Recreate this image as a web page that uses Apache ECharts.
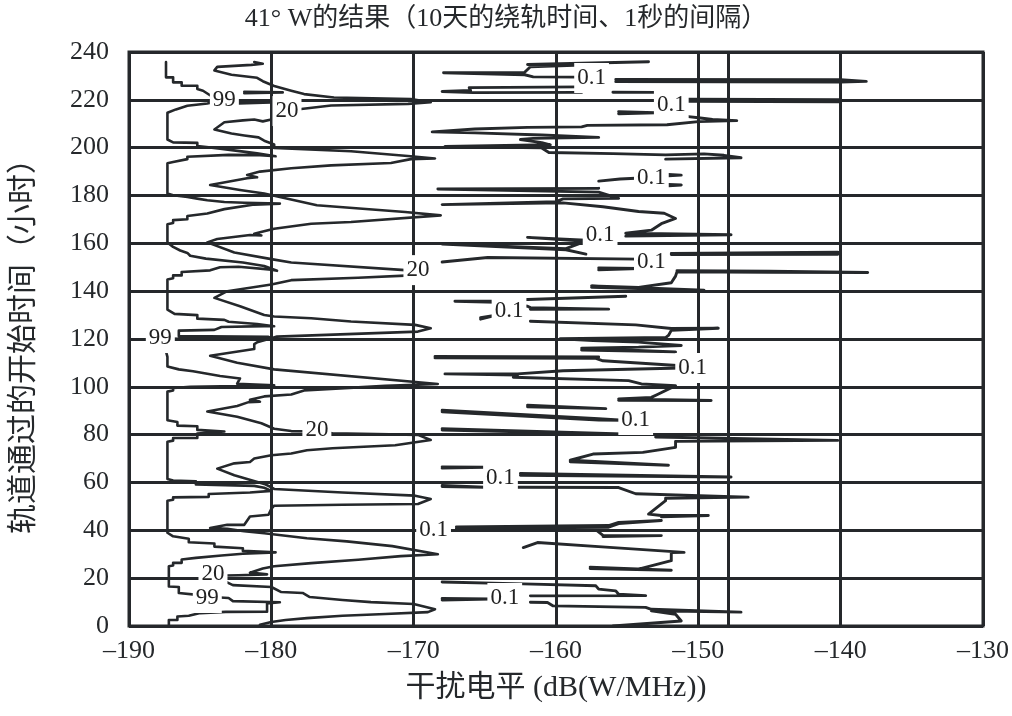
<!DOCTYPE html>
<html>
<head>
<meta charset="utf-8">
<script src="https://cdn.jsdelivr.net/npm/echarts@6/dist/echarts.min.js"></script>
<style>html,body{margin:0;padding:0;background:#fff}#c{width:1012px;height:716px}</style>
</head>
<body>
<div id="c"></div>
<script>
const titleText = '41° W的结果（10天的绕轨时间、1秒的间隔）';
const xName = '干扰电平 (dB(W/MHz))';
const yName = '轨道通过的开始时间（小时）';
const xMin = -190, xMax = -130, xStep = 10;
const yMin = 0, yMax = 240, yStep = 20;
const extraLineX = -147.9;

// 99% contour
const curve99 = [
[[-187.2,0],[-187.2,2.5],[-186.6,2.5],[-186.6,4.0],[-185.8,4.3],[-185.0,5.4],[-183.2,5.9],[-180.3,6.0],[-180.3,9.4],[-179.4,9.9],[-182.7,10.4],[-183.0,11.7],[-184.5,12.2],[-185.2,13.0],[-186.5,13.8],[-186.5,16.3],[-187.2,16.5],[-187.2,25.0],[-186.9,25.3],[-186.9,26.4],[-186.3,26.4],[-186.3,27.8],[-185.3,28.5],[-183.5,29.5],[-182.0,30.2],[-179.7,30.8],[-182.0,31.4],[-182.0,32.5],[-184.0,33.2],[-184.0,34.5],[-185.8,35.0],[-185.8,36.5],[-186.9,37.5],[-187.3,39.0],[-187.3,52.4],[-186.9,52.8],[-186.9,53.8],[-184.4,54.0],[-184.4,55.2],[-181.5,55.8],[-180.0,56.5],[-180.5,57.8],[-181.2,58.6],[-185.3,59.2],[-185.3,60.5],[-186.9,60.8],[-187.3,61.5],[-187.3,77.0],[-186.9,77.5],[-186.9,78.6],[-185.2,78.6],[-185.2,80.5],[-183.3,81.3],[-185.2,82.0],[-185.2,83.5],[-186.6,83.8],[-186.6,85.3],[-187.3,86.0],[-187.3,98.0],[-186.9,98.5],[-186.9,99.5],[-185.7,100.0],[-182.4,100.3],[-179.8,100.6],[-182.4,101.3],[-182.2,103.5],[-183.6,104.5],[-185.5,106.5],[-186.5,107.3],[-187.3,108.5],[-187.3,112.5],[-187.5,117.0],[-187.8,120.3],[-186.5,120.1],[-180.0,120.3],[-180.2,120.9],[-186.5,121.2],[-186.5,123.5],[-184.0,123.8],[-183.5,125.0],[-180.5,125.4],[-179.8,125.3],[-181.0,126.3],[-183.0,127.2],[-183.3,128.0],[-185.2,128.5],[-185.2,130.0],[-186.8,130.5],[-187.3,132.3],[-187.3,144.9],[-186.9,145.4],[-186.9,146.6],[-186.3,146.6],[-186.3,148.0],[-184.3,148.7],[-183.6,150.0],[-182.3,150.2],[-180.0,149.0],[-179.6,148.5],[-180.5,150.5],[-182.0,152.0],[-184.6,153.6],[-185.7,154.8],[-185.9,156.0],[-186.4,157.0],[-186.9,158.5],[-187.3,160.4],[-187.3,168.0],[-186.9,168.5],[-186.9,169.7],[-185.9,170.1],[-185.9,171.4],[-184.5,172.5],[-183.3,174.3],[-181.2,176.2],[-179.4,176.6],[-181.9,177.0],[-183.3,177.3],[-184.5,178.0],[-185.2,178.7],[-185.9,179.4],[-186.9,180.1],[-187.3,180.8],[-187.3,193.5],[-186.9,194.0],[-186.9,194.8],[-185.9,195.2],[-185.9,196.2],[-183.0,197.0],[-180.8,196.9],[-179.7,196.4],[-181.0,197.6],[-183.6,199.6],[-185.2,200.7],[-185.2,202.0],[-186.9,202.2],[-186.9,203.0],[-187.3,203.4],[-187.3,214.6],[-186.7,216.0],[-185.9,217.5],[-184.5,218.5],[-183.6,219.6],[-184.2,221.5],[-184.8,223.8],[-185.2,224.5],[-185.2,225.9],[-186.3,225.9],[-186.3,227.3],[-186.9,227.3],[-186.9,229.4],[-187.4,229.4],[-187.4,235.8]],
[[-182.3,219.2],[-180.0,218.9],[-182.3,218.5]],
[[-181.9,223.4],[-179.2,223.1],[-181.9,222.8]]
];

// 20% contour
const curve20 = [
[[-181.2,235.8],[-180.6,235.1],[-181.4,234.6],[-183.8,233.8],[-184.0,232.3],[-182.8,230.5],[-181.0,229.2],[-180.6,227.8],[-179.8,225.8],[-178.6,223.8],[-177.7,222.4],[-175.6,221.0],[-170.2,220.3],[-168.8,219.0],[-170.4,218.3],[-175.8,217.6],[-177.9,216.2],[-179.1,215.2],[-180.0,211.8],[-180.6,211.0],[-181.2,211.8],[-182.0,211.4],[-183.3,210.6],[-184.0,207.6],[-182.8,205.9],[-181.9,205.1],[-180.9,204.3],[-180.5,202.9],[-179.8,201.3],[-179.8,199.9],[-174.4,198.5],[-170.2,196.4],[-168.5,195.5],[-170.2,195.2],[-171.6,193.6],[-175.8,192.6],[-178.6,191.4],[-180.8,190.0],[-181.7,188.6],[-181.0,187.6],[-181.7,187.2],[-184.3,184.4],[-182.2,182.3],[-180.5,180.8],[-179.8,179.9],[-176.8,175.9],[-170.6,173.1],[-168.1,171.7],[-174.4,168.9],[-177.2,168.2],[-179.8,166.1],[-180.8,164.6],[-181.2,164.0],[-180.7,163.3],[-181.5,163.5],[-183.8,161.8],[-184.5,160.4],[-182.6,156.2],[-180.0,153.4],[-178.6,152.0],[-170.6,148.8],[-169.8,148.3],[-170.2,146.6],[-173.9,145.6],[-178.6,144.6],[-180.0,142.8],[-183.1,140.0],[-184.0,137.2],[-182.2,133.7],[-180.5,130.0],[-179.8,129.4],[-177.2,128.7],[-174.4,127.3],[-169.9,125.9],[-168.8,124.5],[-169.7,123.1],[-179.6,121.0],[-180.0,120.3],[-181.0,118.6],[-181.2,117.9],[-181.2,115.8],[-184.3,113.0],[-182.4,110.1],[-179.8,107.3],[-168.3,101.2],[-172.0,100.4],[-177.7,98.5],[-178.6,96.8],[-180.5,96.0],[-181.5,94.6],[-180.8,93.8],[-181.6,93.6],[-182.4,92.0],[-184.5,89.7],[-182.4,87.5],[-180.7,84.8],[-179.8,82.5],[-178.6,81.5],[-176.9,81.3],[-175.7,80.6],[-169.7,79.9],[-168.8,77.8],[-171.3,75.6],[-175.7,74.3],[-177.5,73.5],[-178.6,72.1],[-180.0,71.4],[-181.2,70.0],[-181.5,68.6],[-182.6,68.0],[-183.8,65.8],[-182.6,63.0],[-180.5,59.4],[-180.0,58.0],[-179.8,57.3],[-175.0,55.8],[-169.9,54.5],[-168.8,53.1],[-169.7,51.0],[-175.0,50.7],[-179.8,50.3],[-180.0,49.0],[-180.2,46.5],[-181.5,45.8],[-181.9,42.3],[-183.1,42.3],[-184.3,41.0],[-183.1,40.6],[-181.9,39.6],[-180.5,38.8],[-177.5,36.7],[-174.7,35.4],[-171.5,33.4],[-168.3,30.0],[-170.9,29.2],[-173.9,27.7],[-177.2,26.3],[-179.8,25.0],[-180.6,24.0],[-181.5,22.3],[-180.3,21.6],[-182.3,21.2],[-184.1,21.0],[-182.7,17.1],[-180.0,16.3],[-179.3,14.2],[-177.8,13.8],[-177.3,12.1],[-175.0,10.9],[-173.0,10.0],[-170.0,9.2],[-168.5,7.0],[-169.0,5.8],[-172.0,5.0],[-175.0,4.3],[-177.5,3.3],[-179.0,2.5],[-180.0,1.7],[-180.8,0.5]]
];

// 0.1% contour
const curve01 = [
[[-153.5,235.9],[-158.2,235.3],[-162.0,234.8],[-158.2,234.5],[-158.2,234.0],[-161.8,233.8],[-162.2,231.5],[-167.9,231.3],[-162.2,230.5],[-161.6,229.6],[-158.2,229.5]],
[[-155.8,228.5],[-140.0,228.4],[-138.2,227.7],[-140.0,227.4],[-155.8,227.6]],
[[-158.2,225.4],[-166.1,225.1],[-166.0,223.9],[-168.0,223.5],[-165.8,223.0],[-158.2,223.1]],
[[-156.0,223.2],[-153.0,223.1]],
[[-150.7,220.3],[-140.0,220.1],[-140.0,219.2],[-150.7,219.4]],
[[-155.6,215.0],[-153.0,214.6],[-155.6,214.2]],
[[-150.7,213.0],[-150.0,212.5],[-149.0,211.8],[-147.3,211.3],[-150.0,210.9],[-152.2,209.6],[-157.8,209.3],[-158.2,208.7],[-162.0,208.5],[-165.7,207.8],[-168.7,206.6],[-165.7,206.2],[-161.0,205.3],[-157.0,204.3],[-161.6,203.9],[-162.5,203.4],[-161.0,202.1],[-160.4,201.2],[-167.8,200.5],[-161.0,199.9],[-160.5,198.0],[-156.0,197.5],[-152.3,197.0],[-149.6,197.4],[-148.2,196.8],[-147.0,195.8],[-152.3,195.2]],
[[-157.0,186.0],[-155.5,186.9],[-154.4,187.2]],
[[-152.1,188.8],[-151.2,188.5],[-152.1,188.2]],
[[-152.1,184.6],[-151.2,184.4],[-152.1,184.1]],
[[-157.0,183.0],[-168.3,182.7],[-168.3,182.0],[-157.0,181.4],[-155.6,178.8],[-159.5,178.6],[-160.0,177.4],[-168.0,176.2],[-159.5,176.9],[-156.7,175.3],[-154.2,173.3],[-152.4,172.6],[-151.6,170.4],[-152.6,168.2],[-153.3,165.5],[-155.1,164.2],[-147.7,163.6],[-155.1,163.0]],
[[-157.9,161.3],[-162.0,162.5],[-162.0,161.8],[-157.9,160.9],[-159.3,157.8],[-168.0,159.7],[-168.0,159.1],[-159.3,157.3],[-157.9,155.5]],
[[-168.0,152.2],[-164.8,154.1],[-154.2,153.4]],
[[-151.9,155.8],[-140.2,156.3],[-140.2,155.4],[-151.9,155.3]],
[[-157.0,149.7],[-154.2,149.5],[-157.0,148.9]],
[[-151.5,148.6],[-145.0,148.4],[-138.1,147.8],[-145.0,147.9],[-151.5,148.1],[-151.6,146.3],[-151.9,143.5],[-154.2,141.6],[-157.5,142.2],[-149.6,140.4],[-149.6,139.8],[-157.5,141.6]],
[[-155.1,137.9],[-162.0,136.5],[-164.1,135.9],[-167.1,135.8],[-167.0,135.2],[-164.1,135.3],[-162.0,133.7],[-161.8,133.1],[-156.3,132.5],[-161.8,132.4]],
[[-165.3,128.9],[-164.1,130.1],[-165.3,128.3]],
[[-161.8,127.4],[-154.4,125.9],[-151.9,124.4],[-148.6,124.5],[-151.9,123.6],[-152.1,121.5],[-152.3,120.6],[-159.7,120.1],[-157.4,119.4],[-154.2,118.7],[-151.2,117.3],[-154.2,116.6],[-158.2,116.2],[-151.6,114.6],[-158.2,115.4]],
[[-168.5,112.7],[-157.0,112.5],[-168.5,112.1],[-157.2,111.9],[-156.7,110.9],[-150.4,108.5]],
[[-150.4,108.0],[-159.5,106.7],[-162.7,105.4],[-167.8,105.4],[-167.8,104.9],[-162.7,104.9]],
[[-163.0,104.0],[-154.9,102.6],[-154.0,101.2],[-151.6,100.5],[-152.8,97.0],[-153.3,95.6],[-155.6,94.9],[-149.1,94.3],[-155.6,94.4]],
[[-162.0,92.3],[-156.5,90.9],[-162.0,91.7]],
[[-168.0,90.2],[-157.0,86.7],[-155.3,86.0],[-157.0,86.1],[-168.0,89.6]],
[[-168.0,82.5],[-155.3,80.3],[-168.0,81.9]],
[[-153.0,79.0],[-140.2,77.6],[-140.2,76.9],[-151.6,77.2],[-151.6,74.7],[-153.9,72.6],[-157.4,71.9],[-159.0,69.3],[-152.1,67.2],[-159.0,68.7]],
[[-168.0,66.5],[-165.0,66.4],[-168.0,66.0]],
[[-162.5,63.8],[-147.7,62.3],[-147.7,61.8],[-162.5,63.0]],
[[-168.0,58.8],[-165.0,58.0],[-168.0,58.3]],
[[-162.7,58.0],[-155.6,57.9],[-154.4,55.3],[-146.5,53.9],[-152.3,53.4],[-152.3,52.4],[-153.5,46.8],[-152.6,46.2],[-149.3,46.2],[-152.6,45.7]],
[[-167.0,41.4],[-156.3,42.0],[-155.6,43.3],[-152.6,44.1],[-155.6,42.8],[-156.3,41.3],[-167.0,40.8]],
[[-157.1,39.8],[-156.7,37.9],[-152.6,37.8],[-156.7,37.4]],
[[-162.3,32.8],[-161.3,34.9],[-156.5,33.0],[-151.0,30.8],[-151.9,30.7],[-151.9,27.3],[-154.2,23.8],[-157.6,24.6],[-151.9,23.3],[-157.6,24.0]],
[[-168.0,18.4],[-162.3,17.6],[-157.2,16.8],[-157.0,15.4],[-155.8,14.7],[-155.6,13.3],[-153.7,12.7],[-161.8,12.6]],
[[-168.0,11.5],[-164.6,11.3],[-168.0,10.9]],
[[-161.8,9.9],[-160.6,9.8],[-160.2,8.4],[-153.7,7.8],[-153.3,7.0],[-147.0,5.8],[-153.3,6.4],[-151.6,4.9],[-151.2,2.1],[-156.0,0.0]]
];

const labels99 = [[-183.3,219.9],[-187.8,120.4],[-184.5,11.7]];
const labels20 = [[-178.9,215.3],[-169.7,148.8],[-176.8,81.9],[-184.1,21.7]];
const labels01 = [[-157.5,229.1],[-151.9,217.8],[-153.3,187.3],[-156.9,163.5],[-153.3,152.2],[-163.3,131.7],[-150.4,107.9],[-154.4,86.1],[-163.9,61.9],[-168.6,40.1],[-163.6,11.7]];

const C = '#25282b';
const SERIF = '"Liberation Serif","Times New Roman","Noto Sans CJK SC",serif';

const series = [];
function addCurve(pieces, w){
  pieces.forEach(p => series.push({
    type:'line', data:p, symbol:'none', showSymbol:false, silent:true,
    lineStyle:{color:C, width:w, join:'round', cap:'round'}, z:3
  }));
}
addCurve(curve99, 2.6); addCurve(curve20, 2.6); addCurve(curve01, 2.9);
series[0].markLine = {
  symbol:'none', silent:true, label:{show:false},
  lineStyle:{color:C, width:3, type:'solid'},
  data:[{xAxis: extraLineX}]
};
function addLabels(pts, txt){
  series.push({
    type:'scatter', symbol:'rect', symbolSize:1, itemStyle:{color:'#fff', opacity:1}, silent:true, z:10,
    data: pts.map(p => ({value:p, name:txt})),
    label:{show:true, position:'inside', formatter:txt, color:'#222', opacity:1,
      textBorderWidth:0, fontSize:23, fontWeight:'normal',
      fontFamily:SERIF, backgroundColor:'#fff', padding:[4,3,3,3]}
  });
}
addLabels(labels99,'99'); addLabels(labels20,'20'); addLabels(labels01,'0.1');

const chart = echarts.init(document.getElementById('c'), null, {renderer:'canvas'});
chart.setOption({
  animation:false,
  backgroundColor:'#fff',
  title:{text:titleText, left:'center', top:1,
    textStyle:{fontFamily:SERIF, fontSize:26, fontWeight:'normal', color:C}},
  grid:{left:129, right:22, top:52, bottom:90, show:true, borderColor:C, borderWidth:3, backgroundColor:'transparent'},
  xAxis:{type:'value', min:xMin, max:xMax, interval:xStep,
    name:xName, nameLocation:'middle', nameGap:47,
    nameTextStyle:{fontFamily:SERIF, fontSize:30, color:C},
    axisLine:{show:false}, axisTick:{show:false},
    splitLine:{show:true, lineStyle:{color:C, width:3}},
    axisLabel:{margin:12, fontFamily:SERIF, fontSize:26, color:C,
      formatter:v => v < 0 ? '\u2013' + Math.abs(v) : String(v)}},
  yAxis:{type:'value', min:yMin, max:yMax, interval:yStep,
    name:yName, nameLocation:'middle', nameGap:90,
    nameTextStyle:{fontFamily:SERIF, fontSize:30, color:C},
    axisLine:{show:false}, axisTick:{show:false},
    splitLine:{show:true, lineStyle:{color:C, width:3}},
    axisLabel:{margin:20, fontFamily:SERIF, fontSize:26, color:C}},
  series: series
});
</script>
</body>
</html>
